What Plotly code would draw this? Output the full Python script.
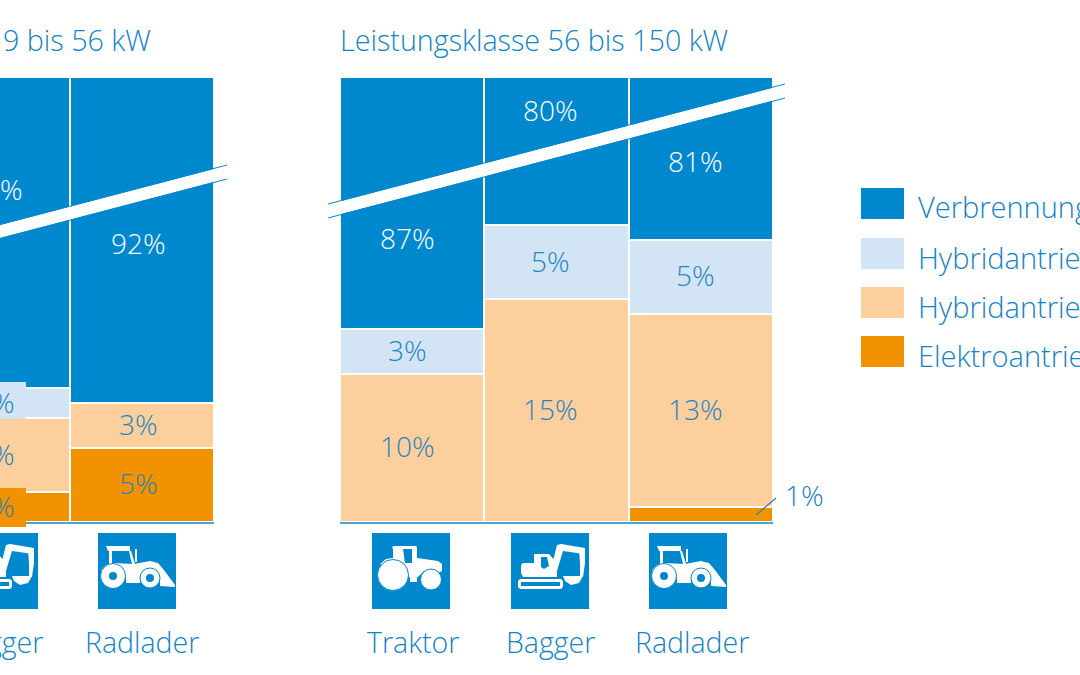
import plotly.graph_objects as go

# ---------- data ----------
series_names = ["Elektroantrieb", "Hybridantrieb parallel", "Hybridantrieb seriell", "Verbrennungsmotor"]
legend_order = ["Verbrennungsmotor", "Hybridantrieb seriell", "Hybridantrieb parallel", "Elektroantrieb"]

categories_19_56 = ["Bagger", "Radlader"]
elektro_19_56 = [2, 5]
parallel_19_56 = [5, 3]
seriell_19_56 = [2, 0]
verbrennung_19_56 = [91, 92]

categories_56_150 = ["Traktor", "Bagger", "Radlader"]
elektro_56_150 = [0, 0, 1]
parallel_56_150 = [10, 15, 13]
seriell_56_150 = [3, 5, 5]
verbrennung_56_150 = [87, 80, 81]

title_19_56 = "Leistungsklasse 19 bis 56 kW"
title_56_150 = "Leistungsklasse 56 bis 150 kW"

# ---------- style ----------
W, H = 1080, 675
BLUE = "#0088cf"
LIGHT = "#d3e5f5"
PEACH = "#fccf9c"
ORANGE = "#f39200"
TEXT = "#1284c8"
VALUE = "#1f85c4"
DIM = "#2f84ad"
AXIS = "#4ba5d8"
FONT = "Open Sans"
WEIGHT = 300
colors = {"Elektroantrieb": ORANGE, "Hybridantrieb parallel": PEACH,
          "Hybridantrieb seriell": LIGHT, "Verbrennungsmotor": BLUE}

Y_TOP_VALUE = 29.9
PLOT_BOTTOM, PLOT_TOP = 522, 78
PX_PER_UNIT = (PLOT_BOTTOM - PLOT_TOP) / Y_TOP_VALUE


def px(x):
    return x / W


def py(y):
    return 1 - y / H


fig = go.Figure()
panels = [
    ("x", "y", categories_19_56,
     [elektro_19_56, parallel_19_56, seriell_19_56, verbrennung_19_56]),
    ("x2", "y2", categories_56_150,
     [elektro_56_150, parallel_56_150, seriell_56_150, verbrennung_56_150]),
]
for xa, ya, cats, stack in panels:
    for name, vals in zip(series_names, stack):
        fig.add_trace(go.Bar(
            x=cats, y=[v if v else None for v in vals], name=name, xaxis=xa, yaxis=ya,
            marker=dict(color=colors[name], line=dict(color="white", width=2.5)),
            showlegend=False, hoverinfo="skip"))

axis_common = dict(showgrid=False, zeroline=False, showticklabels=False, ticks="", fixedrange=True)
fig.update_layout(
    width=W, height=H, margin=dict(l=0, r=0, t=0, b=0), autosize=False,
    paper_bgcolor="white", plot_bgcolor="white", barmode="stack", bargap=0,
    showlegend=False, font=dict(family=FONT, color=TEXT),
    xaxis=dict(domain=[0, px(214)], range=[1 - 142 / 144.3, 1.5], showline=True,
               linecolor=AXIS, linewidth=2, type="category", anchor="y", **axis_common),
    yaxis=dict(domain=[py(PLOT_BOTTOM), py(PLOT_TOP)], range=[0, Y_TOP_VALUE], visible=False, anchor="x"),
    xaxis2=dict(domain=[px(340), px(773)], range=[-0.5, 2.5], showline=True,
                linecolor=AXIS, linewidth=2, type="category", anchor="y2", **axis_common),
    yaxis2=dict(domain=[py(PLOT_BOTTOM), py(PLOT_TOP)], range=[0, Y_TOP_VALUE], visible=False, anchor="x2"),
)

shapes = []
ann = []


def add_text(text, x, y, size=28, color=TEXT, anchor="center", **kw):
    ann.append(dict(text=text, x=px(x), y=py(y), xref="paper", yref="paper", showarrow=False,
                    xanchor=anchor, yanchor="middle",
                    font=dict(family=FONT, size=size, color=color, weight=WEIGHT),
                    borderpad=0, **kw))


def rect(x0, y0, x1, y1, color):
    shapes.append(dict(type="rect", xref="paper", yref="paper", x0=px(x0), x1=px(x1), y0=py(y0), y1=py(y1),
                       fillcolor=color, line=dict(width=0), layer="above"))


def poly(pts, ox, oy, color="white"):
    path = "M " + " L ".join(f"{px(ox + a):.5f},{py(oy + b):.5f}" for a, b in pts) + " Z"
    shapes.append(dict(type="path", path=path, xref="paper", yref="paper", fillcolor=color,
                       line=dict(width=0), layer="above"))


def circ(cx, cy, r, ox, oy, color="white", edge=None):
    shapes.append(dict(type="circle", xref="paper", yref="paper", x0=px(ox + cx - r), x1=px(ox + cx + r),
                       y0=py(oy + cy - r), y1=py(oy + cy + r), fillcolor=color,
                       line=dict(width=1 if edge else 0, color=edge or color), layer="above"))


def icon_traktor(ox, oy):
    rect(ox, oy, ox + 78, oy + 76, BLUE)
    poly([(8, 31), (14, 26), (21, 25), (21, 16), (20, 14), (22, 13), (44, 13), (45, 14), (45, 25), (66, 28), (70, 31),
          (70, 38), (64, 41), (52, 38), (46, 44), (39, 46), (34, 40), (20, 34)], ox, oy)
    poly([(31, 16), (40, 16), (40, 30), (33, 30)], ox, oy, BLUE)
    poly([(38, 41), (45, 41), (45, 49), (38, 49)], ox, oy)
    circ(21, 42, 15.5, ox, oy, "white", BLUE)
    circ(59, 46.5, 10.5, ox, oy, "white", BLUE)


def icon_bagger(ox, oy):
    rect(ox, oy, ox + 78, oy + 76, BLUE)
    poly([(7, 48), (9, 46), (50, 46), (52, 48), (52, 54), (50, 56), (9, 56), (7, 54)], ox, oy)
    poly([(10, 49), (49, 49), (49, 53), (10, 53)], ox, oy, BLUE)
    poly([(10, 32), (12, 30), (23, 30), (23, 21), (38, 21), (46, 30), (46, 44), (12, 44), (10, 40)], ox, oy)
    poly([(30, 24), (36, 24), (38, 33), (33, 36), (30, 34)], ox, oy, BLUE)
    poly([(41, 32), (46, 12), (50, 11), (74, 15), (73, 21), (52, 18), (46, 38)], ox, oy)
    poly([(68, 17), (74, 15), (74, 30), (72, 44), (69, 44), (69, 30)], ox, oy)
    poly([(52, 43), (72, 43), (68, 50), (60, 52), (54, 48)], ox, oy)


def icon_radlader(ox, oy):
    rect(ox, oy, ox + 78, oy + 76, BLUE)
    poly([(8, 13), (32, 13), (32, 18), (10, 18)], ox, oy)
    poly([(11, 18), (14, 18), (14, 31), (11, 31)], ox, oy)
    poly([(31, 18), (33, 18), (37, 31), (34, 31)], ox, oy)
    poly([(37, 16), (39, 16), (39, 29), (37, 29)], ox, oy)
    poly([(3, 37), (8, 32), (15, 30), (36, 31), (52, 28), (60, 30), (66, 37), (77, 52), (77, 54), (62, 53), (62, 46),
          (52, 36), (42, 44), (42, 50), (28, 50), (28, 42), (16, 32), (5, 40)], ox, oy)
    circ(15, 43, 12.5, ox, oy, "white", BLUE)
    circ(15, 43, 4, ox, oy, BLUE)
    circ(52, 45, 10, ox, oy, "white", BLUE)
    circ(52, 45, 4, ox, oy, BLUE)


ICON_TOP = 533
icon_traktor(372, ICON_TOP)
icon_bagger(511, ICON_TOP)
icon_radlader(649, ICON_TOP)
icon_bagger(-40, ICON_TOP)
icon_radlader(98, ICON_TOP)

# label backgrounds that stick out of the partly visible column
rect(-5, 382, 26, 419, LIGHT)
rect(-5, 419, 26, 488, PEACH)
rect(-5, 488, 26, 527, ORANGE)


# axis break band
def band(x0, y0, x1, y1, thick):
    poly([(x0, y0), (x1, y1), (x1, y1 + thick), (x0, y0 + thick)], 0, 0, "white")
    for dy in (-0.5, thick + 0.5):
        shapes.append(dict(type="line", xref="paper", yref="paper", x0=px(x0), x1=px(x1),
                           y0=py(y0 + dy), y1=py(y1 + dy), line=dict(color=BLUE, width=1), layer="above"))


band(328, 204.5, 785, 84.5, 13)
band(-40, 235.5, 227, 165.5, 13)

# leader for the 1 % label
shapes.append(dict(type="line", xref="paper", yref="paper", x0=px(756), x1=px(776), y0=py(515), y1=py(498),
                   line=dict(color=DIM, width=1.2), layer="above"))

# value labels
centers = {"19": {"Bagger": -5, "Radlader": 138}, "56": {"Traktor": 407, "Bagger": 550, "Radlader": 695}}
blue_label_px = {"19": {"Bagger": 189, "Radlader": 243}, "56": {"Traktor": 238, "Bagger": 110, "Radlader": 161}}
for key, (xa, ya, cats, stack) in zip(["19", "56"], panels):
    for i, cat in enumerate(cats):
        base = 0
        for s, (name, vals) in enumerate(zip(series_names, stack)):
            v = vals[i]
            if not v:
                continue
            cx = centers[key][cat]
            if name == "Verbrennungsmotor":
                add_text(f"{v}%", cx, blue_label_px[key][cat], color="white")
            elif v == 1:
                add_text(f"{v}%", 804, 495)
            else:
                col = DIM if name == "Elektroantrieb" else VALUE
                add_text(f"{v}%", cx, PLOT_BOTTOM - (base + v / 2) * PX_PER_UNIT - 1.5, color=col)
            base += v

# category labels and panel titles
for x, t in [(-2, "Bagger"), (141.5, "Radlader"), (413, "Traktor"), (550, "Bagger"), (692, "Radlader")]:
    add_text(t, x, 642, size=28.5)
add_text(title_19_56, 152, 40, size=28.7, anchor="right")
add_text(title_56_150, 339, 40, size=28.7, anchor="left")

# legend
for name, top in zip(legend_order, [188, 238, 287, 336]):
    rect(861, top, 904, top + 31, colors[name])
    add_text(name, 917, top + 19, size=29, anchor="left")

fig.update_layout(shapes=shapes, annotations=ann)
fig.write_html("out.html", config={"displayModeBar": False},
               post_script="document.body.style.margin='0';document.documentElement.style.overflow='hidden';")
